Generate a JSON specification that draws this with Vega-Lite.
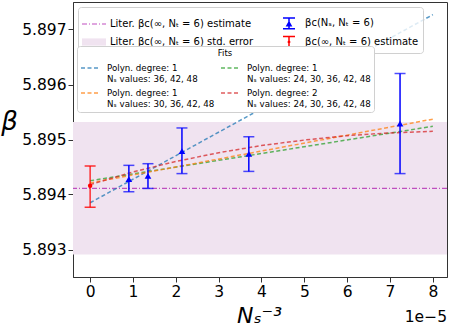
{
  "$schema": "https://vega.github.io/schema/vega-lite/v6.json",
  "width": 374,
  "height": 275,
  "autosize": {"type": "none"},
  "padding": {"left": 73, "top": 2, "right": 2, "bottom": 55},
  "config": {
    "font": "DejaVu Sans",
    "view": {"stroke": "#333333", "strokeWidth": 1},
    "axis": {"grid": false, "domainColor": "#333333", "tickColor": "#333333", "labelColor": "#000000", "labelFontSize": 15.5, "tickSize": 5, "labelPadding": 2, "titleFontWeight": "normal", "titleColor": "#000000", "labelFlush": false, "labelOverlap": false},
    "legend": {"gridAlign": "each", "padding": 4, "fillColor": "rgba(255,255,255,0.8)", "strokeColor": "#d0d0d0", "cornerRadius": 3, "labelLimit": 400, "labelColor": "#000000", "labelOffset": 4}
  },
  "datasets": {
    "legendrows": [
      {"series": "Liter. βc(∞, Nₜ = 6) estimate", "x": 0, "y": 5.894},
      {"series": "Liter. βc(∞, Nₜ = 6) std. error", "x": 0, "y": 5.894},
      {"series": "βc(Nₛ, Nₜ = 6)", "x": 0, "y": 5.894},
      {"series": "βc(∞, Nₜ = 6) estimate", "x": 0, "y": 5.894}
    ],
    "offsettext": [{"t": "1e−5", "x": 8.33, "y": 5.8925}],
    "band": [{"lo": 5.89291, "hi": 5.89532}],
    "hline": [{"y": 5.89411}],
    "blue": [
      {"x": 0.904, "y": 5.89428, "lo": 5.89405, "hi": 5.89453},
      {"x": 1.350, "y": 5.89434, "lo": 5.89411, "hi": 5.89456},
      {"x": 2.143, "y": 5.89479, "lo": 5.89438, "hi": 5.89521},
      {"x": 3.704, "y": 5.89474, "lo": 5.89442, "hi": 5.89505},
      {"x": 7.234, "y": 5.89529, "lo": 5.89438, "hi": 5.89620}
    ],
    "red": [{"x": 0, "y": 5.89416, "lo": 5.89377, "hi": 5.89452}],
    "fits": [
      {"fit": "Polyn. degree: 1|Nₛ values: 36, 42, 48", "x": 0, "y": 5.89385},
      {"fit": "Polyn. degree: 1|Nₛ values: 36, 42, 48", "x": 8, "y": 5.89727},
      {"fit": "Polyn. degree: 1|Nₛ values: 24, 30, 36, 42, 48", "x": 0, "y": 5.89425},
      {"fit": "Polyn. degree: 1|Nₛ values: 24, 30, 36, 42, 48", "x": 8, "y": 5.89524},
      {"fit": "Polyn. degree: 1|Nₛ values: 30, 36, 42, 48", "x": 0, "y": 5.89421},
      {"fit": "Polyn. degree: 1|Nₛ values: 30, 36, 42, 48", "x": 8, "y": 5.89537},
      {"fit": "Polyn. degree: 2|Nₛ values: 24, 30, 36, 42, 48", "x": 0, "y": 5.89418},
      {"fit": "Polyn. degree: 2|Nₛ values: 24, 30, 36, 42, 48", "x": 1, "y": 5.89441},
      {"fit": "Polyn. degree: 2|Nₛ values: 24, 30, 36, 42, 48", "x": 2, "y": 5.89460},
      {"fit": "Polyn. degree: 2|Nₛ values: 24, 30, 36, 42, 48", "x": 3, "y": 5.89476},
      {"fit": "Polyn. degree: 2|Nₛ values: 24, 30, 36, 42, 48", "x": 4, "y": 5.89489},
      {"fit": "Polyn. degree: 2|Nₛ values: 24, 30, 36, 42, 48", "x": 5, "y": 5.89499},
      {"fit": "Polyn. degree: 2|Nₛ values: 24, 30, 36, 42, 48", "x": 6, "y": 5.89507},
      {"fit": "Polyn. degree: 2|Nₛ values: 24, 30, 36, 42, 48", "x": 7, "y": 5.89512},
      {"fit": "Polyn. degree: 2|Nₛ values: 24, 30, 36, 42, 48", "x": 8, "y": 5.89515}
    ]
  },
  "layer": [
    {
      "data": {"name": "band"},
      "mark": {"type": "rect", "color": "#f0e3f0"},
      "encoding": {
        "y": {"field": "lo", "type": "quantitative", "title": "β", "scale": {"domain": [5.8925, 5.8975], "nice": false, "zero": false},
          "axis": {"values": [5.893, 5.894, 5.895, 5.896, 5.897], "format": ".3f", "titleAngle": 0, "titleFontSize": 26, "titleFontStyle": "italic", "titleX": -64, "titleY": 119, "titleAlign": "center", "titleBaseline": "middle"}},
        "y2": {"field": "hi"}
      }
    },
    {
      "data": {"name": "hline"},
      "mark": {"type": "rule", "strokeDash": [5, 2, 1, 2], "strokeWidth": 1.2, "color": "#bf4fbf"},
      "encoding": {
        "y": {"field": "y", "type": "quantitative", "title": "β", "scale": {"domain": [5.8925, 5.8975], "nice": false, "zero": false}}
      }
    },
    {
      "data": {"name": "fits"},
      "mark": {"type": "line", "strokeDash": [4, 2.5], "strokeWidth": 1.5, "opacity": 0.75},
      "encoding": {
        "x": {"field": "x", "type": "quantitative", "title": "Nₛ⁻³", "scale": {"domain": [-0.4, 8.33], "nice": false, "zero": false},
          "axis": {"values": [0, 1, 2, 3, 4, 5, 6, 7, 8], "titleFontSize": 22, "titleFontStyle": "italic", "titleX": 186, "titleY": 45, "titleBaseline": "alphabetic", "titleAlign": "center"}},
        "y": {"field": "y", "type": "quantitative", "title": "β", "scale": {"domain": [5.8925, 5.8975], "nice": false, "zero": false}},
        "stroke": {"field": "fit", "type": "nominal",
          "scale": {"domain": ["Polyn. degree: 1|Nₛ values: 36, 42, 48", "Polyn. degree: 1|Nₛ values: 30, 36, 42, 48", "Polyn. degree: 1|Nₛ values: 24, 30, 36, 42, 48", "Polyn. degree: 2|Nₛ values: 24, 30, 36, 42, 48"], "range": ["#1f77b4", "#ff7f0e", "#2ca02c", "#d62728"]},
          "legend": {
            "orient": "none", "legendX": 4, "legendY": 44, "columns": 2, "title": "Fits", "zindex": 2,
            "titleFontSize": 8.5, "titleFontWeight": "normal", "titleAnchor": "middle", "titlePadding": 1, "titleColor": "#000000",
            "symbolType": "stroke", "symbolSize": 289, "symbolDash": [4, 2.5], "symbolStrokeWidth": 1.5, "symbolOpacity": 0.75,
            "labelFontSize": 8.7, "labelLineHeight": 9.5, "labelOffset": 8, "columnPadding": 3, "rowPadding": -2.5, "labelLimit": 300,
            "labelExpr": "split(datum.label, '|')", "padding": 3, "fillColor": "#ffffff"
          }
        }
      }
    },
    {
      "data": {"name": "blue"},
      "mark": {"type": "errorbar", "color": "#0000ff", "ticks": {"size": 11, "thickness": 1.5, "color": "#0000ff"}, "rule": {"strokeWidth": 1.5, "color": "#0000ff"}},
      "encoding": {
        "x": {"field": "x", "type": "quantitative", "title": "Nₛ⁻³", "scale": {"domain": [-0.4, 8.33], "nice": false, "zero": false}},
        "y": {"field": "lo", "type": "quantitative", "title": "β", "scale": {"domain": [5.8925, 5.8975], "nice": false, "zero": false}},
        "y2": {"field": "hi"}
      }
    },
    {
      "data": {"name": "blue"},
      "mark": {"type": "point", "shape": "triangle-up", "filled": true, "size": 45, "opacity": 1, "color": "#0000ff"},
      "encoding": {
        "x": {"field": "x", "type": "quantitative", "title": "Nₛ⁻³", "scale": {"domain": [-0.4, 8.33], "nice": false, "zero": false}},
        "y": {"field": "y", "type": "quantitative", "title": "β", "scale": {"domain": [5.8925, 5.8975], "nice": false, "zero": false}}
      }
    },
    {
      "data": {"name": "red"},
      "mark": {"type": "errorbar", "color": "#ff0000", "ticks": {"size": 11, "thickness": 1.5, "color": "#ff0000", "opacity": 0.8}, "rule": {"strokeWidth": 1.5, "color": "#ff0000", "opacity": 0.8}},
      "encoding": {
        "x": {"field": "x", "type": "quantitative", "title": "Nₛ⁻³", "scale": {"domain": [-0.4, 8.33], "nice": false, "zero": false}},
        "y": {"field": "lo", "type": "quantitative", "title": "β", "scale": {"domain": [5.8925, 5.8975], "nice": false, "zero": false}},
        "y2": {"field": "hi"}
      }
    },
    {
      "data": {"name": "red"},
      "mark": {"type": "point", "shape": "circle", "filled": true, "size": 20, "opacity": 1, "color": "#ff0000"},
      "encoding": {
        "x": {"field": "x", "type": "quantitative", "title": "Nₛ⁻³", "scale": {"domain": [-0.4, 8.33], "nice": false, "zero": false}},
        "y": {"field": "y", "type": "quantitative", "title": "β", "scale": {"domain": [5.8925, 5.8975], "nice": false, "zero": false}}
      }
    },
    {
      "data": {"name": "offsettext"},
      "mark": {"type": "text", "align": "right", "baseline": "alphabetic", "dy": 45, "fontSize": 15.5, "color": "#000000"},
      "encoding": {
        "x": {"field": "x", "type": "quantitative", "title": "Nₛ⁻³", "scale": {"domain": [-0.4, 8.33], "nice": false, "zero": false}},
        "y": {"field": "y", "type": "quantitative", "title": "β", "scale": {"domain": [5.8925, 5.8975], "nice": false, "zero": false}},
        "text": {"field": "t"}
      }
    },
    {
      "data": {"name": "legendrows"},
      "mark": {"type": "point", "filled": true, "opacity": 0, "size": 576},
      "encoding": {
        "x": {"field": "x", "type": "quantitative", "title": "Nₛ⁻³", "scale": {"domain": [-0.4, 8.33], "nice": false, "zero": false}},
        "y": {"field": "y", "type": "quantitative", "title": "β", "scale": {"domain": [5.8925, 5.8975], "nice": false, "zero": false}},
        "color": {"field": "series", "type": "nominal",
          "scale": {"domain": ["Liter. βc(∞, Nₜ = 6) estimate", "Liter. βc(∞, Nₜ = 6) std. error", "βc(Nₛ, Nₜ = 6)", "βc(∞, Nₜ = 6) estimate"], "range": ["#bf4fbf", "#f0e3f0", "#0000ff", "#ff0000"]},
          "legend": {
            "orient": "none", "legendX": 5, "legendY": 5, "columns": 2, "title": null, "zindex": 1,
            "symbolSize": 576, "symbolOpacity": 1, "symbolStrokeWidth": 0, "labelFontSize": 10, "labelOffset": 4, "columnPadding": 23, "rowPadding": -4
          }
        },
        "shape": {"field": "series", "type": "nominal",
          "scale": {"domain": ["Liter. βc(∞, Nₜ = 6) estimate", "Liter. βc(∞, Nₜ = 6) std. error", "βc(Nₛ, Nₜ = 6)", "βc(∞, Nₜ = 6) estimate"],
            "range": [
              "M-1,-0.05H-0.583V0.05H-1Z M-0.417,-0.05H-0.333V0.05H-0.417Z M-0.167,-0.05H0.25V0.05H-0.167Z M0.417,-0.05H0.5V0.05H0.417Z M0.667,-0.05H1V0.05H0.667Z",
              "M-1,-0.3H1V0.3H-1Z",
              "M-0.0625,-0.45H0.0625V0.45H-0.0625Z M-0.5,-0.5125H0.5V-0.3875H-0.5Z M-0.5,0.3875H0.5V0.5125H-0.5Z M-0.28,0.25L0,-0.25L0.28,0.25Z",
              "M-0.0625,-0.45H0.0625V0.45H-0.0625Z M-0.5,-0.5125H0.5V-0.3875H-0.5Z M-0.5,0.3875H0.5V0.5125H-0.5Z M-0.12,0A0.12,0.12 0 1,1 0.12,0A0.12,0.12 0 1,1 -0.12,0Z"
            ]},
          "legend": {
            "orient": "none", "legendX": 5, "legendY": 5, "columns": 2, "title": null, "zindex": 1,
            "symbolSize": 576, "symbolOpacity": 1, "symbolStrokeWidth": 0, "labelFontSize": 10, "labelOffset": 4, "columnPadding": 23, "rowPadding": -4
          }
        }
      }
    }
  ]
}
